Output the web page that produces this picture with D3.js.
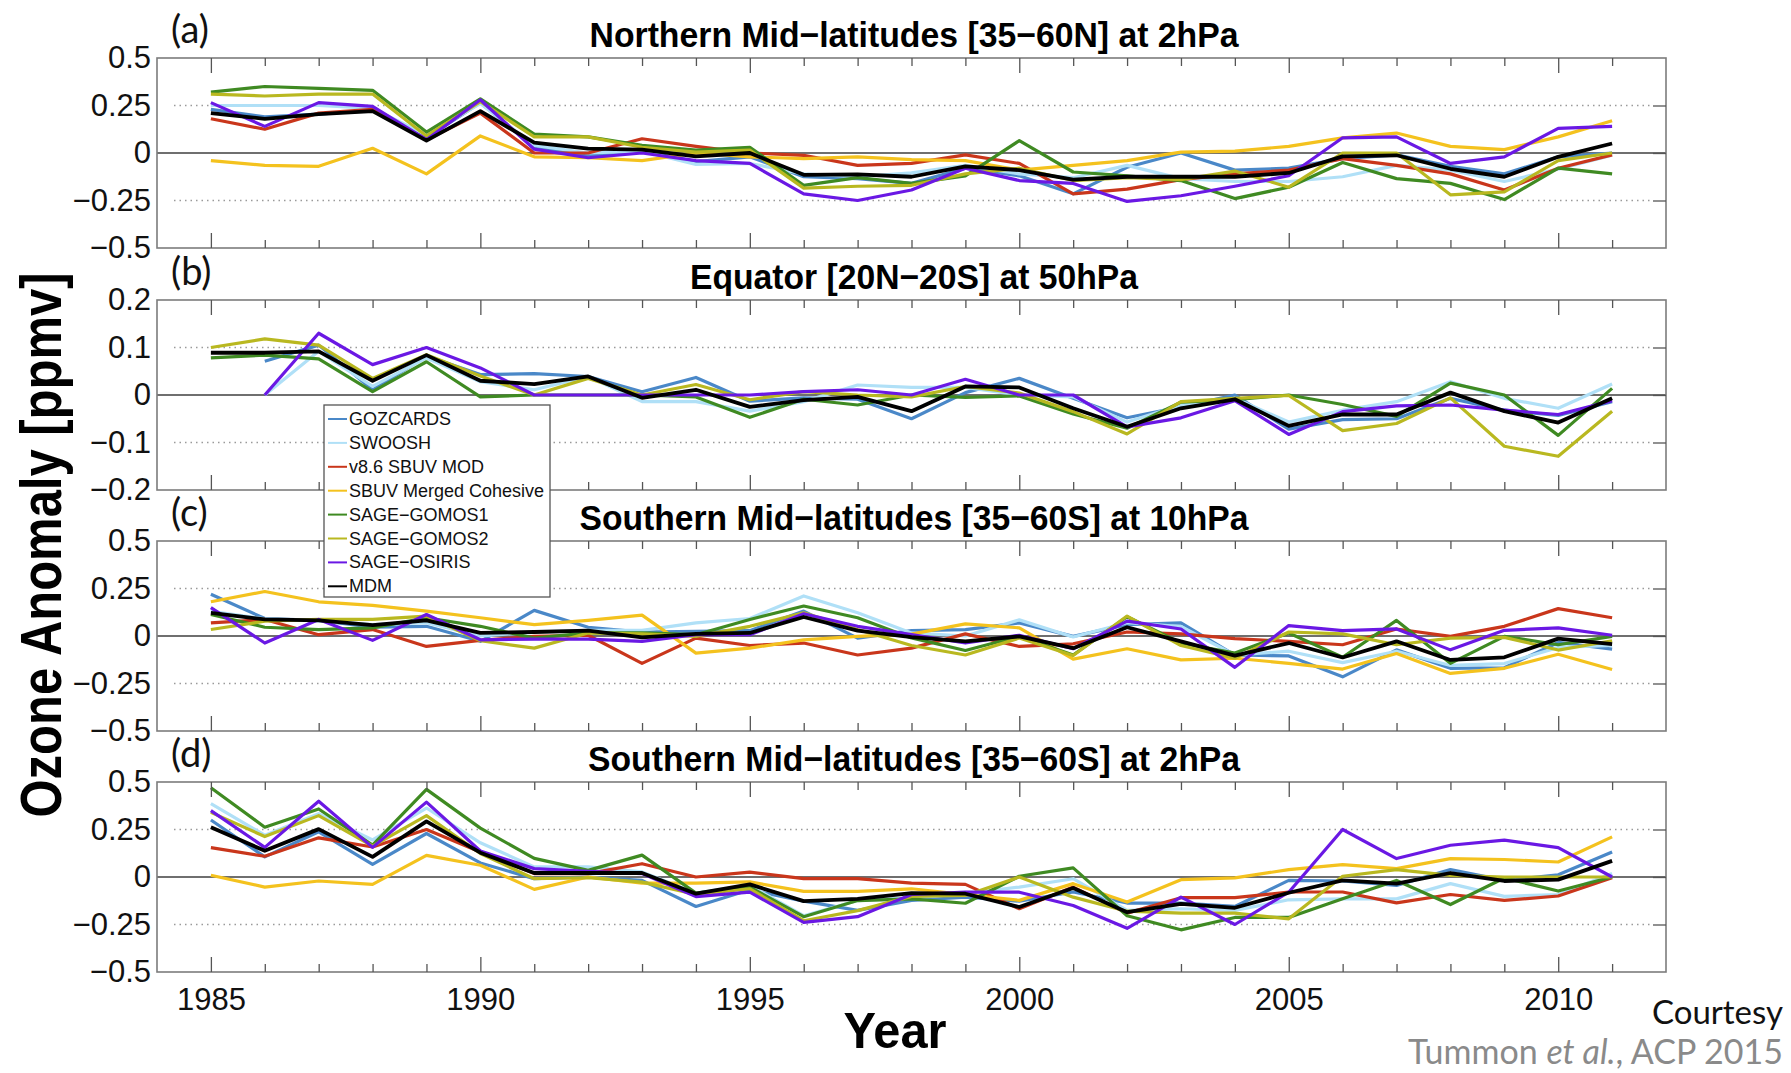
<!DOCTYPE html>
<html><head><meta charset="utf-8">
<script src="https://cdn.jsdelivr.net/npm/d3@7"></script>
<style>body{margin:0;background:#fff;} svg{display:block;}</style>
</head><body>
<svg id="chart" width="1791" height="1073"></svg>
<script>
// ---------- DATA ----------
const years = [1985,1986,1987,1988,1989,1990,1991,1992,1993,1994,1995,1996,1997,1998,1999,2000,2001,2002,2003,2004,2005,2006,2007,2008,2009,2010,2011];
const seriesNames = ["GOZCARDS","SWOOSH","v8.6 SBUV MOD","SBUV Merged Cohesive","SAGE\u2212GOMOS1","SAGE\u2212GOMOS2","SAGE\u2212OSIRIS","MDM"];
const seriesColors = ["#4a88c8","#b0e0f7","#c9361b","#f4c21e","#3f8a22","#b9b820","#6a18e4","#000000"];
const xTickLabels = ["1985","1990","1995","2000","2005","2010"];
const panelTitles = ["Northern Mid\u2212latitudes [35\u221260N] at 2hPa","Equator [20N\u221220S] at 50hPa","Southern Mid\u2212latitudes [35\u221260S] at 10hPa","Southern Mid\u2212latitudes [35\u221260S] at 2hPa"];
const panelLetters = ["(a)","(b)","(c)","(d)"];
const yTicksWide = [-0.5,-0.25,0,0.25,0.5];
const yTickLabelsWide = ["\u22120.5","\u22120.25","0","0.25","0.5"];
const yTicksNarrow = [-0.2,-0.1,0,0.1,0.2];
const yTickLabelsNarrow = ["\u22120.2","\u22120.1","0","0.1","0.2"];

// Panel (a) Northern mid-latitudes 2hPa
const aGOZCARDS = [0.23,0.19,0.205,0.225,0.08,0.265,0.03,-0.012,0.01,-0.045,-0.02,-0.125,-0.135,-0.16,-0.08,-0.12,-0.215,-0.075,0.0,-0.09,-0.08,-0.03,-0.01,-0.07,-0.11,-0.02,0.0];
const aSWOOSH   = [0.25,0.25,0.25,0.235,0.095,0.26,0.04,0.0,0.01,-0.06,-0.055,-0.11,-0.125,-0.105,-0.065,-0.11,-0.13,-0.065,-0.135,-0.15,-0.15,-0.125,-0.065,-0.09,-0.15,-0.085,-0.012];
const aSBUVMOD  = [0.18,0.125,0.21,0.23,0.07,0.21,0.0,0.0,0.075,0.035,0.0,-0.012,-0.065,-0.055,-0.01,-0.055,-0.215,-0.19,-0.14,-0.11,-0.09,-0.03,-0.065,-0.11,-0.195,-0.08,-0.01];
const aCohesive = [-0.04,-0.065,-0.07,0.025,-0.11,0.09,-0.02,-0.025,-0.04,0.0,-0.02,-0.03,-0.02,-0.035,-0.04,-0.09,-0.065,-0.04,0.005,0.01,0.035,0.08,0.105,0.035,0.018,0.085,0.17];
const aGOMOS1   = [0.32,0.35,0.34,0.33,0.11,0.285,0.10,0.085,0.04,0.015,0.03,-0.17,-0.13,-0.16,-0.12,0.065,-0.10,-0.12,-0.145,-0.24,-0.18,-0.05,-0.135,-0.16,-0.245,-0.08,-0.11];
const aGOMOS2   = [0.31,0.30,0.31,0.31,0.09,0.27,0.085,0.085,0.03,0.005,0.015,-0.185,-0.175,-0.17,-0.11,-0.08,-0.145,-0.13,-0.14,-0.095,-0.18,0.0,0.0,-0.22,-0.205,-0.04,0.0];
const aOSIRIS   = [0.265,0.14,0.265,0.245,0.07,0.28,0.02,-0.025,0.0,-0.04,-0.055,-0.215,-0.25,-0.195,-0.08,-0.145,-0.16,-0.255,-0.225,-0.175,-0.12,0.08,0.085,-0.055,-0.02,0.13,0.14];
const aMDM      = [0.21,0.18,0.205,0.22,0.065,0.22,0.055,0.023,0.018,-0.018,0.0,-0.115,-0.113,-0.125,-0.07,-0.09,-0.14,-0.125,-0.125,-0.125,-0.105,-0.018,-0.012,-0.083,-0.125,-0.02,0.05];

// Panel (b) Equator 50hPa
const bGOZCARDS = [null,0.071,0.105,0.011,0.082,0.043,0.045,0.039,0.007,0.037,-0.013,-0.006,-0.009,-0.05,0.005,0.035,-0.007,-0.048,-0.025,0.0,-0.072,-0.052,-0.05,-0.007,-0.032,-0.043,-0.014];
const bSWOOSH   = [null,0.0,0.092,0.018,0.078,0.028,0.011,0.039,-0.014,-0.014,-0.034,-0.014,0.021,0.016,0.016,0.0,-0.004,-0.057,-0.021,-0.007,-0.057,-0.032,-0.014,0.028,-0.007,-0.028,0.023];
const bSBUVMOD  = [];
const bCohesive = [];
const bGOMOS1   = [0.078,0.084,0.076,0.007,0.07,-0.004,0.0,0.0,0.0,-0.004,-0.047,-0.009,-0.021,0.0,-0.005,-0.002,-0.04,-0.07,-0.015,-0.01,0.0,-0.02,-0.045,0.025,0.0,-0.085,0.014];
const bGOMOS2   = [0.10,0.118,0.105,0.035,0.085,0.04,0.0,0.035,0.0,0.022,-0.01,0.007,0.0,-0.004,0.018,0.004,-0.035,-0.082,-0.014,-0.007,-0.001,-0.075,-0.06,-0.006,-0.108,-0.129,-0.034];
const bOSIRIS   = [null,0.0,0.13,0.064,0.10,0.057,0.0,0.0,0.0,0.0,0.0,0.007,0.011,0.0,0.033,0.0,0.0,-0.067,-0.048,-0.012,-0.083,-0.035,-0.023,-0.021,-0.032,-0.041,-0.012];
const bMDM      = [0.089,0.089,0.092,0.03,0.084,0.03,0.023,0.039,-0.006,0.011,-0.025,-0.011,-0.004,-0.034,0.018,0.016,-0.028,-0.067,-0.028,-0.009,-0.065,-0.041,-0.041,0.005,-0.034,-0.058,-0.007];

// Panel (c) Southern mid-latitudes 10hPa
const cGOZCARDS = [0.22,0.092,0.082,0.046,0.051,-0.028,0.135,0.046,0.021,0.025,0.028,0.131,-0.011,0.028,0.034,0.069,-0.002,0.06,0.069,-0.1,-0.105,-0.215,-0.073,-0.17,-0.167,-0.034,-0.069];
const cSWOOSH   = [0.13,0.09,0.08,0.06,0.07,0.0,0.02,0.03,0.03,0.069,0.092,0.211,0.122,0.016,0.0,0.085,-0.005,0.07,0.05,-0.1,-0.08,-0.14,-0.08,-0.155,-0.145,-0.06,-0.05];
const cSBUVMOD  = [0.069,0.087,0.007,0.034,-0.055,-0.023,-0.002,0.004,-0.144,-0.011,-0.05,-0.037,-0.1,-0.064,0.011,-0.055,-0.041,0.021,0.011,-0.014,-0.028,-0.046,0.037,-0.002,0.051,0.144,0.096];
const cCohesive = [0.18,0.234,0.18,0.161,0.131,0.096,0.06,0.082,0.11,-0.09,-0.064,-0.02,-0.002,0.01,0.064,0.043,-0.122,-0.067,-0.126,-0.117,-0.144,-0.174,-0.092,-0.197,-0.17,-0.096,-0.176];
const cGOMOS1   = [0.113,0.046,0.034,0.043,0.096,0.051,-0.011,0.016,0.016,0.007,0.087,0.158,0.096,-0.01,-0.076,-0.002,-0.1,0.101,-0.037,-0.09,0.016,-0.112,0.082,-0.144,-0.002,-0.046,-0.002];
const cGOMOS2   = [0.034,0.078,0.087,0.087,0.105,-0.025,-0.064,0.016,0.011,-0.002,0.051,0.122,0.034,-0.05,-0.1,-0.011,-0.103,0.105,-0.05,-0.117,0.021,0.011,-0.046,-0.011,-0.007,-0.074,-0.025];
const cOSIRIS   = [0.149,-0.037,0.087,-0.023,0.113,-0.02,-0.016,-0.016,-0.028,0.007,0.007,0.117,0.051,0.007,-0.037,0.004,-0.067,0.078,0.037,-0.165,0.055,0.028,0.037,-0.073,0.03,0.043,0.004];
const cMDM      = [0.122,0.087,0.082,0.057,0.082,0.016,0.021,0.028,-0.007,0.011,0.016,0.1,0.028,-0.006,-0.028,-0.002,-0.064,0.046,-0.028,-0.103,-0.037,-0.113,-0.028,-0.126,-0.112,-0.014,-0.043];

// Panel (d) Southern mid-latitudes 2hPa
const dGOZCARDS = [0.3,0.106,0.238,0.067,0.229,0.074,-0.009,0.0,-0.018,-0.155,-0.067,-0.127,-0.176,-0.123,-0.106,-0.127,-0.079,-0.137,-0.137,-0.155,-0.018,-0.021,-0.044,0.039,-0.018,0.012,0.132];
const dSWOOSH   = [0.386,0.22,0.333,0.195,0.363,0.18,0.053,0.053,0.027,-0.085,-0.044,-0.204,-0.124,-0.11,-0.088,-0.053,-0.009,-0.176,-0.167,-0.176,-0.12,-0.115,-0.115,-0.035,-0.102,-0.092,0.018];
const dSBUVMOD  = [0.155,0.109,0.206,0.158,0.25,0.132,0.018,0.018,0.07,0.0,0.026,-0.009,-0.009,-0.032,-0.039,-0.167,-0.053,-0.19,-0.109,-0.109,-0.079,-0.079,-0.136,-0.092,-0.123,-0.1,-0.004];
const dCohesive = [0.009,-0.053,-0.021,-0.039,0.114,0.062,-0.065,0.0,-0.032,-0.032,-0.026,-0.076,-0.076,-0.062,-0.092,-0.123,-0.035,-0.132,-0.014,-0.005,0.039,0.065,0.044,0.097,0.092,0.079,0.211];
const dGOMOS1   = [0.47,0.262,0.358,0.168,0.461,0.257,0.098,0.035,0.115,-0.085,-0.053,-0.209,-0.124,-0.115,-0.138,0.004,0.048,-0.204,-0.278,-0.213,-0.213,-0.115,-0.018,-0.145,-0.005,-0.074,0.0];
const dGOMOS2   = [0.34,0.213,0.323,0.163,0.323,0.124,-0.009,-0.004,-0.027,-0.092,-0.062,-0.23,-0.177,-0.102,-0.097,0.0,-0.106,-0.18,-0.19,-0.19,-0.22,0.004,0.039,0.009,0.0,0.0,0.0];
const dOSIRIS   = [0.349,0.156,0.399,0.156,0.394,0.137,0.044,0.03,0.018,-0.103,-0.08,-0.239,-0.209,-0.092,-0.08,-0.08,-0.15,-0.27,-0.106,-0.25,-0.08,0.25,0.097,0.167,0.194,0.155,0.0];
const dMDM      = [0.262,0.138,0.252,0.106,0.293,0.128,0.021,0.021,0.021,-0.088,-0.039,-0.127,-0.115,-0.085,-0.088,-0.158,-0.058,-0.185,-0.141,-0.162,-0.083,-0.018,-0.035,0.021,-0.021,-0.014,0.085];

// ---------- LAYOUT ----------
const W = 1791, H = 1073;
const plotLeft = 157, plotRight = 1666;
const panelTops = [58, 300, 541, 782];
const panelH = 190;
const titleLengths = [649, 448, 669, 652];

const panels = [
  {series:[aGOZCARDS,aSWOOSH,aSBUVMOD,aCohesive,aGOMOS1,aGOMOS2,aOSIRIS,aMDM], domain:[-0.5,0.5], ticks:yTicksWide, labels:yTickLabelsWide, grid:[-0.25,0.25]},
  {series:[bGOZCARDS,bSWOOSH,bSBUVMOD,bCohesive,bGOMOS1,bGOMOS2,bOSIRIS,bMDM], domain:[-0.2,0.2], ticks:yTicksNarrow, labels:yTickLabelsNarrow, grid:[-0.1,0.1]},
  {series:[cGOZCARDS,cSWOOSH,cSBUVMOD,cCohesive,cGOMOS1,cGOMOS2,cOSIRIS,cMDM], domain:[-0.5,0.5], ticks:yTicksWide, labels:yTickLabelsWide, grid:[-0.25,0.25]},
  {series:[dGOZCARDS,dSWOOSH,dSBUVMOD,dCohesive,dGOMOS1,dGOMOS2,dOSIRIS,dMDM], domain:[-0.5,0.5], ticks:yTicksWide, labels:yTickLabelsWide, grid:[-0.25,0.25]}
];

const svg = d3.select("#chart");
svg.append("rect").attr("width", W).attr("height", H).attr("fill", "#fff");

const x = d3.scaleLinear().domain([1984, 2012]).range([plotLeft, plotRight]);
const majorYears = xTickLabels.map(Number);
const minorYears = years.filter(v => !majorYears.includes(v));
const tickFont = "'Liberation Sans', Arial, Helvetica, sans-serif";

panels.forEach((p, i) => {
  const top = panelTops[i], bottom = top + panelH;
  const y = d3.scaleLinear().domain(p.domain).range([bottom, top]);
  const g = svg.append("g");

  // dotted grid lines
  g.selectAll("line.grid").data(p.grid).enter().append("line")
    .attr("x1", plotLeft + 17).attr("x2", plotRight - 13)
    .attr("y1", d => y(d)).attr("y2", d => y(d))
    .attr("stroke", "#9a9a9a").attr("stroke-width", 1.3).attr("stroke-dasharray", "1.5,4");
  // zero line
  g.append("line").attr("x1", plotLeft).attr("x2", plotRight)
    .attr("y1", y(0)).attr("y2", y(0)).attr("stroke", "#6f6f6f").attr("stroke-width", 2);

  // series
  const line = d3.line().defined(d => d.v !== null && d.v !== undefined)
    .x(d => x(d.yr)).y(d => y(d.v));
  p.series.forEach((vals, k) => {
    if (!vals.length) return;
    const pts = years.map((yr, j) => ({yr, v: vals[j]}));
    g.append("path").datum(pts).attr("d", line)
      .attr("fill", "none").attr("stroke", seriesColors[k])
      .attr("stroke-width", k === 7 ? 3.8 : 3.2)
      .attr("stroke-linejoin", "round").attr("stroke-linecap", "butt");
  });

  // frame
  g.append("rect").attr("x", plotLeft).attr("y", top)
    .attr("width", plotRight - plotLeft).attr("height", panelH)
    .attr("fill", "none").attr("stroke", "#7c7c7c").attr("stroke-width", 1.6);

  // x ticks (inward, top & bottom)
  const axMinB = d3.axisBottom(x).tickValues(minorYears).tickSize(-8).tickFormat("");
  const axMajB = d3.axisBottom(x).tickValues(majorYears).tickSize(-15).tickFormat("");
  const axMinT = d3.axisTop(x).tickValues(minorYears).tickSize(-8).tickFormat("");
  const axMajT = d3.axisTop(x).tickValues(majorYears).tickSize(-15).tickFormat("");
  [[axMinB,bottom],[axMajB,bottom],[axMinT,top],[axMajT,top]].forEach(([ax, yy]) => {
    const ag = g.append("g").attr("transform", `translate(0,${yy})`).call(ax);
    ag.select(".domain").remove();
    ag.selectAll("line").attr("stroke", "#555").attr("stroke-width", 1.3);
  });
  // right-side y ticks at grid and zero
  const axR = d3.axisRight(y).tickValues(p.grid.concat([0])).tickSize(-13).tickFormat("");
  const rg = g.append("g").attr("transform", `translate(${plotRight},0)`).call(axR);
  rg.select(".domain").remove();
  rg.selectAll("line").attr("stroke", "#555").attr("stroke-width", 1.3);

  // y tick labels via left axis
  const axL = d3.axisLeft(y).tickValues(p.ticks).tickSize(0).tickPadding(6)
    .tickFormat((d, j) => p.labels[j]);
  const lg = g.append("g").attr("transform", `translate(${plotLeft},0)`).call(axL);
  lg.select(".domain").remove();
  lg.selectAll("text").attr("font-family", tickFont).attr("font-size", 31).attr("fill", "#111");

  // title
  g.append("text").attr("x", 914).attr("y", top - 11).attr("text-anchor", "middle")
    .attr("font-family", tickFont).attr("font-weight", "bold").attr("font-size", 35)
    .attr("textLength", titleLengths[i]).attr("lengthAdjust", "spacingAndGlyphs")
    .attr("fill", "#000").text(panelTitles[i]);
  // panel letter
  g.append("text").attr("x", 171).attr("y", top - 15)
    .attr("font-family", "Lato, 'Open Sans', sans-serif").attr("font-size", 38)
    .attr("fill", "#111").text(panelLetters[i]);

  // year labels on the last panel
  if (i === panels.length - 1) {
    const axYr = d3.axisBottom(x).tickValues(majorYears).tickSize(0).tickPadding(16)
      .tickFormat((d, j) => xTickLabels[j]);
    const yg = g.append("g").attr("transform", `translate(0,${bottom})`).call(axYr);
    yg.select(".domain").remove();
    yg.selectAll("text").attr("font-family", tickFont).attr("font-size", 31).attr("fill", "#111");
  }
});

// axis titles
svg.append("text").attr("transform", "translate(61,545) rotate(-90)")
  .attr("text-anchor", "middle").attr("font-family", tickFont).attr("font-weight", "bold")
  .attr("font-size", 58).attr("textLength", 545).attr("lengthAdjust", "spacingAndGlyphs")
  .attr("fill", "#000").text("Ozone Anomaly [ppmv]");
svg.append("text").attr("x", 895).attr("y", 1048).attr("text-anchor", "middle")
  .attr("font-family", tickFont).attr("font-weight", "bold").attr("font-size", 50)
  .attr("textLength", 103).attr("lengthAdjust", "spacingAndGlyphs")
  .attr("fill", "#000").text("Year");

// legend
const legX = 324, legY = 405, legW = 226, legH = 192;
const leg = svg.append("g");
leg.append("rect").attr("x", legX).attr("y", legY).attr("width", legW).attr("height", legH)
  .attr("fill", "#fff").attr("stroke", "#555").attr("stroke-width", 1.3);
seriesNames.forEach((name, k) => {
  const by = 425 + k * 23.9;
  leg.append("line").attr("x1", legX + 4).attr("x2", legX + 23)
    .attr("y1", by - 6).attr("y2", by - 6).attr("stroke", seriesColors[k]).attr("stroke-width", 2);
  leg.append("text").attr("x", legX + 25).attr("y", by)
    .attr("font-family", tickFont).attr("font-size", 18).attr("fill", "#111").text(name);
});

// credit
svg.append("text").attr("x", 1783).attr("y", 1024).attr("text-anchor", "end")
  .attr("font-family", "Lato, 'Open Sans', sans-serif").attr("font-size", 33).attr("fill", "#111")
  .text("Courtesy");
const cred = svg.append("text").attr("x", 1783).attr("y", 1064).attr("text-anchor", "end")
  .attr("font-family", "Lato, 'Open Sans', sans-serif").attr("font-size", 34).attr("fill", "#8a8a8a");
cred.append("tspan").text("Tummon ");
cred.append("tspan").attr("font-style", "italic").text("et al.");
cred.append("tspan").text(", ACP 2015");
</script>
</body></html>
